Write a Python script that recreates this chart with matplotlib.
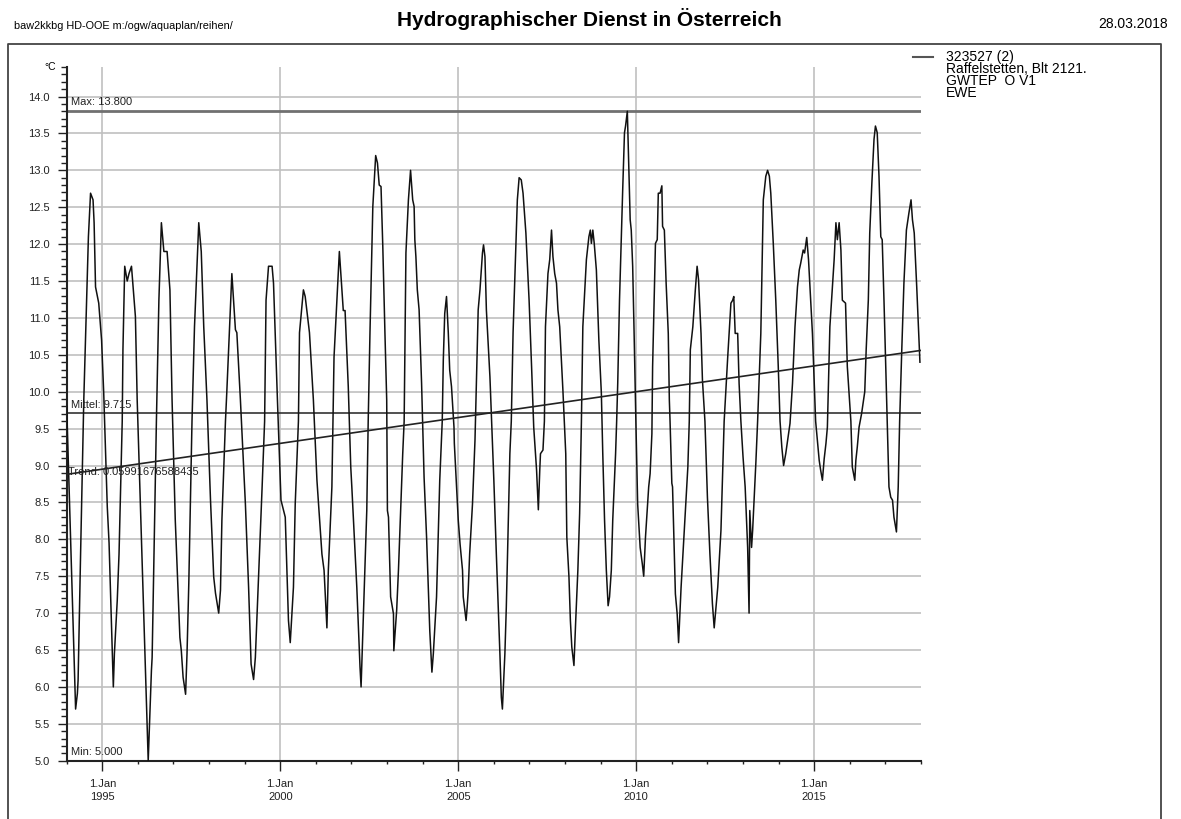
import matplotlib
matplotlib.use('Agg')
import matplotlib.pyplot as plt
from matplotlib.ticker import MultipleLocator, FuncFormatter
from matplotlib.lines import Line2D

plt.rcParams['font.family'] = ['Liberation Sans', 'DejaVu Sans']

# groundwater temperature (decimal year, degC)
years = [
    1994.00, 1994.25, 1994.30, 1994.32, 1994.39, 1994.48, 1994.61, 1994.67, 1994.74, 1994.77,
    1994.81, 1994.90, 1994.98, 1995.04, 1995.14, 1995.19, 1995.28, 1995.31, 1995.34, 1995.42,
    1995.47, 1995.56, 1995.58, 1995.63, 1995.70, 1995.75, 1995.82, 1995.93, 1995.98, 1996.29,
    1996.38, 1996.40, 1996.52, 1996.59, 1996.66, 1996.73, 1996.82, 1996.90, 1996.96, 1997.05,
    1997.18, 1997.22, 1997.27, 1997.34, 1997.38, 1997.43, 1997.52, 1997.59, 1997.71, 1997.78,
    1997.85, 1997.94, 1998.04, 1998.13, 1998.18, 1998.27, 1998.32, 1998.36, 1998.46, 1998.50,
    1998.64, 1998.74, 1998.78, 1998.88, 1999.02, 1999.11, 1999.18, 1999.25, 1999.30, 1999.35,
    1999.49, 1999.56, 1999.60, 1999.67, 1999.77, 1999.81, 1999.92, 2000.02, 2000.14, 2000.23,
    2000.28, 2000.37, 2000.42, 2000.51, 2000.54, 2000.65, 2000.70, 2000.82, 2000.93, 2001.03,
    2001.17, 2001.23, 2001.31, 2001.35, 2001.45, 2001.51, 2001.66, 2001.73, 2001.77, 2001.82,
    2001.91, 2001.98, 2002.01, 2002.15, 2002.24, 2002.27, 2002.33, 2002.43, 2002.47, 2002.52,
    2002.60, 2002.68, 2002.73, 2002.78, 2002.83, 2002.88, 2002.94, 2002.99, 2003.01, 2003.04,
    2003.10, 2003.18, 2003.19, 2003.27, 2003.32, 2003.44, 2003.48, 2003.53, 2003.60, 2003.66,
    2003.72, 2003.76, 2003.78, 2003.81, 2003.85, 2003.90, 2003.97, 2004.04, 2004.11, 2004.20,
    2004.26, 2004.30, 2004.39, 2004.48, 2004.55, 2004.58, 2004.62, 2004.67, 2004.72, 2004.76,
    2004.81, 2004.88, 2004.89, 2005.00, 2005.05, 2005.12, 2005.14, 2005.22, 2005.25, 2005.28,
    2005.32, 2005.40, 2005.47, 2005.56, 2005.61, 2005.68, 2005.71, 2005.75, 2005.79, 2005.89,
    2006.00, 2006.07, 2006.17, 2006.21, 2006.24, 2006.31, 2006.35, 2006.45, 2006.49, 2006.54,
    2006.61, 2006.66, 2006.71, 2006.77, 2006.82, 2006.90, 2006.99, 2007.06, 2007.12, 2007.15,
    2007.20, 2007.25, 2007.29, 2007.31, 2007.38, 2007.42, 2007.45, 2007.52, 2007.57, 2007.62,
    2007.66, 2007.71, 2007.76, 2007.80, 2007.85, 2007.94, 2008.02, 2008.05, 2008.11, 2008.15,
    2008.19, 2008.25, 2008.30, 2008.36, 2008.41, 2008.46, 2008.50, 2008.60, 2008.67, 2008.71,
    2008.74, 2008.78, 2008.82, 2008.88, 2008.95, 2009.02, 2009.06, 2009.11, 2009.16, 2009.21,
    2009.25, 2009.30, 2009.34, 2009.42, 2009.45, 2009.48, 2009.53, 2009.62, 2009.67, 2009.70,
    2009.75, 2009.79, 2009.83, 2009.86, 2009.90, 2009.94, 2009.99, 2010.04, 2010.11, 2010.17,
    2010.21, 2010.26, 2010.35, 2010.39, 2010.44, 2010.46, 2010.54, 2010.59, 2010.62, 2010.67,
    2010.72, 2010.74, 2010.79, 2010.84, 2010.90, 2010.93, 2010.95, 2011.00, 2011.02, 2011.10,
    2011.15, 2011.19, 2011.26, 2011.35, 2011.45, 2011.49, 2011.52, 2011.59, 2011.66, 2011.71,
    2011.75, 2011.82, 2011.86, 2011.93, 2012.00, 2012.07, 2012.14, 2012.19, 2012.29, 2012.38,
    2012.47, 2012.57, 2012.61, 2012.66, 2012.71, 2012.74, 2012.78, 2012.85, 2012.89, 2012.94,
    2013.00, 2013.06, 2013.13, 2013.17, 2013.19, 2013.24, 2013.27, 2013.36, 2013.41, 2013.50,
    2013.57, 2013.64, 2013.69, 2013.74, 2013.78, 2013.85, 2013.92, 2013.99, 2014.04, 2014.09,
    2014.14, 2014.20, 2014.28, 2014.32, 2014.39, 2014.46, 2014.53, 2014.58, 2014.62, 2014.69,
    2014.73, 2014.79, 2014.84, 2014.90, 2014.95, 2015.00, 2015.04, 2015.09, 2015.14, 2015.18,
    2015.23, 2015.28, 2015.33, 2015.37, 2015.44, 2015.51, 2015.56, 2015.61, 2015.65, 2015.70,
    2015.75, 2015.79, 2015.88, 2015.93, 2016.03, 2016.07, 2016.14, 2016.17, 2016.21, 2016.26,
    2016.33, 2016.42, 2016.46, 2016.52, 2016.56, 2016.62, 2016.68, 2016.72, 2016.77, 2016.82,
    2016.87, 2016.91, 2016.96, 2017.01, 2017.05, 2017.10, 2017.15, 2017.20, 2017.24, 2017.31,
    2017.36, 2017.40, 2017.46, 2017.52, 2017.59, 2017.66, 2017.72, 2017.76, 2017.81, 2017.88,
    2017.97,
]
temps = [
    9.80, 5.70, 5.91, 6.09, 7.80, 9.89, 12.10, 12.69, 12.60, 12.29,
    11.42, 11.20, 10.70, 9.98, 8.44, 7.95, 6.45, 6.00, 6.45, 7.17,
    7.80, 9.60, 10.57, 11.70, 11.50, 11.60, 11.70, 11.02, 9.89, 5.00,
    6.22, 6.40, 9.60, 11.24, 12.29, 11.90, 11.90, 11.38, 9.89, 8.26,
    6.67, 6.49, 6.13, 5.90, 6.45, 7.40, 9.60, 10.88, 12.29, 11.90,
    10.88, 9.89, 8.53, 7.49, 7.27, 7.00, 7.31, 8.26, 9.60, 10.02,
    11.60, 10.84, 10.80, 9.89, 8.48, 7.35, 6.31, 6.10, 6.40, 7.00,
    8.71, 9.60, 11.24, 11.70, 11.70, 11.47, 9.89, 8.53, 8.30, 6.90,
    6.60, 7.35, 8.48, 9.60, 10.80, 11.38, 11.29, 10.80, 9.89, 8.80,
    7.80, 7.58, 6.80, 7.58, 8.71, 10.47, 11.90, 11.38, 11.10, 11.10,
    10.07, 8.98, 8.71, 7.35, 6.27, 6.00, 6.90, 8.39, 9.60, 10.80,
    12.51, 13.20, 13.10, 12.80, 12.78, 11.97, 10.80, 9.89, 8.39, 8.30,
    7.22, 6.99, 6.49, 7.04, 7.58, 9.16, 9.60, 11.88, 12.60, 13.00,
    12.60, 12.51, 12.06, 11.83, 11.38, 11.11, 10.11, 8.84, 8.03, 6.76,
    6.20, 6.45, 7.22, 8.80, 9.60, 10.43, 11.06, 11.29, 10.80, 10.29,
    10.07, 9.52, 9.30, 8.26, 7.94, 7.58, 7.22, 6.90, 7.08, 7.31,
    7.80, 8.48, 9.34, 11.11, 11.38, 11.88, 11.99, 11.83, 11.11, 10.20,
    8.80, 7.80, 6.45, 5.86, 5.70, 6.45, 7.08, 9.16, 9.60, 10.80,
    11.83, 12.60, 12.90, 12.87, 12.69, 12.15, 11.24, 10.34, 9.52, 9.30,
    8.94, 8.40, 8.94, 9.16, 9.21, 9.60, 10.88, 11.60, 11.79, 12.19,
    11.83, 11.60, 11.47, 11.11, 10.88, 10.02, 9.16, 8.03, 7.49, 6.90,
    6.54, 6.29, 6.90, 7.58, 8.35, 9.60, 10.88, 11.79, 12.10, 12.19,
    12.01, 12.19, 12.01, 11.65, 10.70, 9.98, 9.16, 8.26, 7.58, 7.10,
    7.22, 7.58, 8.26, 9.16, 9.60, 10.11, 11.24, 12.74, 13.51, 13.60,
    13.80, 13.05, 12.33, 12.19, 11.70, 10.80, 9.60, 8.48, 7.89, 7.67,
    7.50, 8.03, 8.71, 8.89, 9.43, 10.34, 12.01, 12.06, 12.69, 12.69,
    12.79, 12.24, 12.19, 11.47, 10.79, 9.89, 9.60, 8.76, 8.71, 7.26,
    6.99, 6.60, 7.35, 8.12, 8.98, 9.60, 10.57, 10.88, 11.38, 11.70,
    11.52, 10.79, 10.16, 9.60, 8.57, 7.80, 7.13, 6.80, 7.35, 8.12,
    9.60, 10.47, 10.79, 11.20, 11.24, 11.29, 10.79, 10.79, 10.11, 9.60,
    9.12, 8.71, 7.89, 7.00, 8.39, 7.89, 8.12, 9.03, 9.60, 10.79,
    12.60, 12.92, 13.00, 12.92, 12.69, 12.01, 11.24, 10.34, 9.60, 9.25,
    9.00, 9.16, 9.43, 9.57, 10.11, 10.88, 11.42, 11.65, 11.74, 11.92,
    11.88, 12.09, 11.79, 11.24, 10.79, 10.11, 9.60, 9.34, 9.07, 8.94,
    8.80, 9.09, 9.30, 9.52, 10.88, 11.42, 11.79, 12.29, 12.06, 12.29,
    11.92, 11.24, 11.20, 10.34, 9.60, 8.98, 8.80, 9.07, 9.25, 9.52,
    9.70, 10.00, 10.57, 11.24, 12.15, 12.83, 13.42, 13.60, 13.51, 12.92,
    12.10, 12.06, 11.24, 10.34, 9.60, 8.71, 8.57, 8.53, 8.30, 8.10,
    8.71, 9.60, 10.57, 11.47, 12.19, 12.42, 12.60, 12.33, 12.15, 11.42,
    10.40,
]

max_val = 13.8
mean_val = 9.715
min_val = 5.0
trend_x = [1994.0, 2018.0]
trend_y = [8.88, 10.56]
trend_label = 'Trend: 0.05991676588435'
legend_lines = ['323527 (2)', 'Raffelstetten, Blt 2121.', 'GWTEP  O V1', 'EWE']
year_ticks = [1995, 2000, 2005, 2010, 2015]

W, H = 1181, 819
fig = plt.figure(figsize=(W / 100, H / 100), dpi=100)
ax = fig.add_axes([66.7 / W, 1 - 760.7 / H, (921 - 66.7) / W, (760.7 - 67) / H])

ax.set_xlim(1994.0, 2018.0)
ax.set_ylim(5.0, 14.4)

ax.set_xticks(year_ticks)
ax.set_xticklabels(['1.Jan\n%d' % y for y in year_ticks], linespacing=1.35)
ax.xaxis.set_minor_locator(MultipleLocator(1))
ax.yaxis.set_major_locator(MultipleLocator(0.5))
ax.yaxis.set_minor_locator(MultipleLocator(0.1))
ax.yaxis.set_major_formatter(FuncFormatter(lambda v, p: '%.1f' % v))

ax.grid(True, which='major', color='#c0c0c0', lw=1.2, zorder=0)
ax.set_axisbelow(True)
for s in ['top', 'right']:
    ax.spines[s].set_visible(False)
for s in ['left', 'bottom']:
    ax.spines[s].set_color('#222222')
    ax.spines[s].set_linewidth(1.5)

ax.tick_params(axis='y', which='major', length=6.3, width=1, pad=6, labelsize=8, colors='#222222')
ax.tick_params(axis='y', which='minor', length=4.3, width=1, colors='#222222')
ax.tick_params(axis='x', which='major', length=7, width=1, pad=6, labelsize=8, colors='#222222')
ax.tick_params(axis='x', which='minor', length=2.5, width=1, colors='#222222')

ax.axhline(max_val, color='#707070', lw=2, zorder=2)
ax.axhline(mean_val, color='#333333', lw=1.2, zorder=2)
ax.plot(years, temps, color='#111111', lw=1.1, zorder=3)
ax.plot(trend_x, trend_y, color='#222222', lw=1.2, zorder=3)

lbl = dict(xycoords=('axes fraction', 'data'), textcoords='offset pixels', fontsize=8, color='#222222')
ax.annotate('Max: %.3f' % max_val, xy=(0, max_val), xytext=(4, 4), va='bottom', **lbl)
ax.annotate('Mittel: %.3f' % mean_val, xy=(0, mean_val), xytext=(4, 3), va='bottom', **lbl)
ax.annotate(trend_label, xy=(0, trend_y[0]), xytext=(1.5, -1), va='baseline', **lbl)
ax.annotate('Min: %.3f' % min_val, xy=(0, min_val), xytext=(4, 4), va='bottom', **lbl)

ax.text(-0.012, 1.0, '°C', transform=ax.transAxes, ha='right', va='center', fontsize=7.5)

# header
fig.text(14 / W, 1 - 29.3 / H, 'baw2kkbg HD-OOE m:/ogw/aquaplan/reihen/', fontsize=7.8, va='baseline')
fig.text(589.5 / W, 1 - 26 / H, 'Hydrographischer Dienst in Österreich', fontsize=15,
         fontweight='bold', ha='center', va='baseline')
fig.text(1168 / W, 1 - 28.3 / H, '28.03.2018', fontsize=10, ha='right', va='baseline')

# page frame
fig.add_artist(Line2D([7.5 / W, 7.5 / W, 1161 / W, 1161 / W], [0, 1 - 44 / H, 1 - 44 / H, 0],
                      transform=fig.transFigure, color='#444444', lw=1.3))

# legend
fig.add_artist(Line2D([913 / W, 933 / W], [1 - 56.7 / H, 1 - 56.7 / H],
                      transform=fig.transFigure, color='#555555', lw=1.5))
for i, t in enumerate(legend_lines):
    fig.text(945.7 / W, 1 - (61 + 12 * i) / H, t, fontsize=10, va='baseline')

fig.savefig('out.png', dpi=100)
